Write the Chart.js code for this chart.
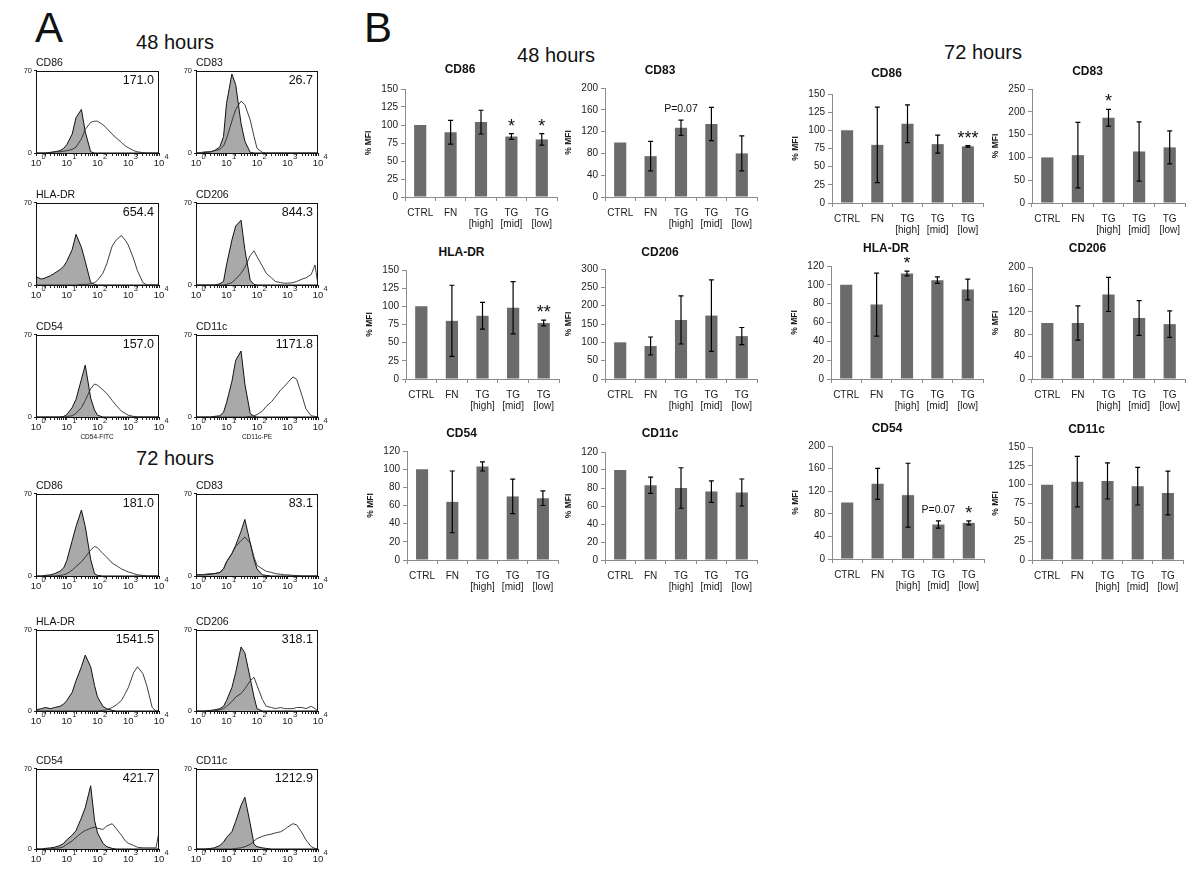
<!DOCTYPE html>
<html>
<head>
<meta charset="utf-8">
<script src="https://cdn.jsdelivr.net/npm/chart.js@4.4.0/dist/chart.umd.min.js"></script>
<style>
    body { margin: 0; width: 1200px; height: 875px; background: #fff; position: relative; overflow: hidden;
           font-family: "Liberation Sans", Arial, sans-serif; color: #111; }
    canvas { position: absolute; }
    .txt { position: absolute; white-space: nowrap; line-height: 1; z-index: 2; }
</style>
</head>
<body>
<script>
// --- PANEL A: FLOW HISTOGRAMS (fluorescence channel vs. counts) ---
const channels = [1, 1.5, 2, 3, 4, 6, 8, 10, 15, 20, 30, 40, 60, 80, 100, 150, 200, 300, 400, 600, 800, 1000, 1500, 2000, 3000, 4000, 6000, 8000, 10000];
const decadeExponents = { 1: '0', 10: '1', 100: '2', 1000: '3', 10000: '4' };

const h48_cd86_shaded  = [0,0,0,0.5,1,2,4,7,16,30,37,18,1,0,0,0,0,0,0,0,0,0,0,0,0,0,0,0,0];
const h48_cd86_open    = [0,0,0,0.5,1,1,1.5,2,3,5,12,20,26,27,27,24,21,16,13,9,6,4.5,2,1,0.3,0,0,0,0];
const h48_cd83_shaded  = [0,0,0.5,1,2,5,14,42,67,58,25,10,0.5,0,0,0,0,0,0,0,0,0,0,0,0,0,0,0,0];
const h48_cd83_open    = [0,0.5,1,1,2,3,6,12,27,37,44,41,28,14,4,0.5,0,0,0,0,0,0,0,0,0,0,0,0,0];
const h48_hla_shaded   = [7,5,6,8,10,13,16,20,30,43,32,20,2,0.5,0,0,0,0,0,0,0,0,0,0,0,0,0,0,0];
const h48_hla_open     = [0,0,0,0,0,0,0,0,0,0,0.5,0.5,1,2,4,10,18,33,38,42,38,34,22,12,2,0,0,0,0];
const h48_cd206_shaded = [0,0,0,0,0,1,3,17,38,50,55,30,4,0.5,0,0,0,0,0,0,0,0,0,0,0,0,0,0,0];
const h48_cd206_open   = [0,0,0,0,0,0,0,0.5,2,5,10,15,25,29,24,16,10,6,3,2,1.5,1.5,2,3,5,6,9,17,0];
const h48_cd54_shaded  = [0,0,0,0,0,0,0.5,2,8,15,32,44,16,6,1.5,0,0,0,0,0,0,0,0,0,0,0,0,0,0];
const h48_cd54_open    = [0,0,0,0,0,0,0,0.5,1,3,8,14,24,28,27,23,20,14,10,5,3,1.5,0.5,0,0,0,0,0,0];
const h48_cd11c_shaded = [0,0,0,0,0.5,1,4,12,30,48,56,28,3,0.5,0,0,0,0,0,0,0,0,0,0,0,0,0,0,0];
const h48_cd11c_open   = [0,0,0,0,0,0,0,0,0,0,0,0,0.5,1,2,5,9,13,17,23,26,29,34,32,18,7,1,0.5,0];

const h72_cd86_shaded  = [0,0,0.5,1,2,4,7,13,30,42,56,42,14,2,0.5,0,0,0,0,0,0,0,0,0,0,0,0,0,0];
const h72_cd86_open    = [0,0,0,0,0,0.5,1,2,5,8,12,16,22,25,24,19,16,11,9,6,4.5,3.5,2,1,0.5,0,0,0,0];
const h72_cd83_shaded  = [1,1,1,1.5,2,3,6,12,19,26,38,48,28,14,6,1,0.5,0,0,0,0,0,0,0,0,0,0,0,0];
const h72_cd83_open    = [1,1,1.5,2,2,3,6,12,19,25,30,33,28,16,9,6,4,3,2,1.5,1,1,0.5,0.5,0,0,0,0,0];
const h72_hla_shaded   = [1,2,3,2,3,4,6,9,16,26,38,48,38,22,12,4,2,0.5,0,0,0,0,0,0,0,0,0,0,0];
const h72_hla_open     = [0,0,0,0,0,0,0,0,0,0,0,0,0,0,0,0.5,1,3,5,9,15,20,33,38,32,22,3,0,0];
const h72_cd206_shaded = [0,0,0,0.5,1,2,4,9,20,33,55,50,28,12,2,0,0,0,0,0,0,0,0,0,0,0,0,0,0];
const h72_cd206_open   = [0,0,0,0,0,1,2,4,8,12,15,19,26,29,22,10,4,3,2,3,2,2,2,3,3,2,4,2,0];
const h72_cd54_shaded  = [0,0,0.5,1,1.5,3,5,8,12,16,27,36,55,25,14,5,2,0.5,0,0,0,0,0,0,0,0,0,0,0];
const h72_cd54_open    = [0,0,0,0,0.5,1,2,4,7,10,14,16,18,19,18,17,20,22,18,12,7,5,3,1.5,1,1,1,1,15];
const h72_cd11c_shaded = [0,0,0,0.5,1,3,6,10,15,24,38,45,22,4,2,1,0.5,0,0,0,0,0,0,0,0,0,0,0,0];
const h72_cd11c_open   = [0,0,0,0,0,0,0,0,0,0.5,1,2,4,7,9,11,12,13,14,15,17,19,22,21,14,8,2,0.5,0];

// --- PANEL B: % MFI BAR CHARTS ---
const groups = ['CTRL', 'FN', ['TG', '[high]'], ['TG', '[mid]'], ['TG', '[low]']];

const b48_cd86 = [100, 90, 104, 84, 80];    const b48_cd86_err = [0, 16.5, 16.5, 4, 8];
const b48_cd83 = [100, 75, 127, 134, 80];   const b48_cd83_err = [0, 27, 14, 30.5, 32];
const b48_hla = [100, 80, 87, 98, 77];      const b48_hla_err = [0, 49, 18.5, 36, 4];
const b48_cd206 = [100, 90, 161, 173, 117]; const b48_cd206_err = [0, 24.5, 65.5, 97.5, 23.5];
const b48_cd54 = [100, 64, 103, 70, 68];    const b48_cd54_err = [0, 34, 5, 19, 8];
const b48_cd11c = [100, 83, 80, 76, 75];    const b48_cd11c_err = [0, 9, 22.5, 12, 15];

const b72_cd86 = [100, 80, 109, 81, 78];    const b72_cd86_err = [0, 52, 26, 12.5, 1];
const b72_cd83 = [100, 105, 187, 113, 122]; const b72_cd83_err = [0, 72, 18.5, 65, 36];
const b72_hla = [100, 79, 112, 105, 95];    const b72_hla_err = [0, 33.5, 2.5, 3.5, 11];
const b72_cd206 = [100, 100, 151, 109, 98]; const b72_cd206_err = [0, 30.5, 30.5, 31, 23.5];
const b72_cd54 = [100, 133, 113, 61, 64];   const b72_cd54_err = [0, 27.5, 56.5, 6.5, 3.5];
const b72_cd11c = [100, 104, 105, 98, 89];  const b72_cd11c_err = [0, 33.5, 24, 25, 29];

const noMarks = ['', '', '', '', ''];
const b48_cd86_marks = ['', '', '', '*', '*'];
const b48_cd83_marks = ['', '', 'P=0.07', '', ''];
const b48_hla_marks = ['', '', '', '', '**'];
const b72_cd86_marks = ['', '', '', '', '***'];
const b72_cd83_marks = ['', '', '*', '', ''];
const b72_hla_marks = ['', '', '*', '', ''];
const b72_cd54_marks = ['', '', '', 'P=0.07', '*'];

Chart.defaults.font.family = '"Liberation Sans", Arial, sans-serif';
Chart.defaults.color = '#1a1a1a';

// --- HELPERS ---
function addText(str, x, y, size, opts = {}) {
    const d = document.createElement('div');
    d.className = 'txt';
    d.textContent = str;
    d.style.left = x + 'px';
    d.style.top = y + 'px';
    d.style.fontSize = size + 'px';
    if (opts.bold) d.style.fontWeight = 'bold';
    const shift = opts.align === 'left' ? '0' : opts.align === 'right' ? '-100%' : '-50%';
    d.style.transform = `translate(${shift}, -50%)`;
    document.body.appendChild(d);
}

function addCanvas(left, top, w, h) {
    const c = document.createElement('canvas');
    c.width = w; c.height = h;
    c.style.left = left + 'px';
    c.style.top = top + 'px';
    c.style.width = w + 'px';
    c.style.height = h + 'px';
    document.body.appendChild(c);
    return c;
}

// closed frame around the histogram plot area, plus the raised decade exponents
const boxFrame = {
    id: 'boxFrame',
    afterDraw(chart) {
        const { ctx, chartArea: a } = chart;
        const xs = chart.scales.x;
        ctx.save();
        ctx.strokeStyle = '#111';
        ctx.lineWidth = 1;
        ctx.strokeRect(Math.round(a.left) + 0.5, Math.round(a.top) + 0.5,
                       Math.round(a.right - a.left) - 1, Math.round(a.bottom - a.top) - 1);
        ctx.fillStyle = '#1a1a1a';
        ctx.font = '7.5px "Liberation Sans", Arial, sans-serif';
        ctx.textAlign = 'left';
        ctx.textBaseline = 'middle';
        Object.keys(decadeExponents).forEach(v => {
            ctx.fillText(decadeExponents[v], xs.getPixelForValue(Number(v)) + 5.5, a.bottom + 4);
        });
        ctx.restore();
    }
};

// error bars + significance marks on top of bars
const errorBars = {
    id: 'errorBars',
    afterDatasetsDraw(chart) {
        const ds = chart.data.datasets[0];
        const meta = chart.getDatasetMeta(0);
        const yScale = chart.scales.y;
        const ctx = chart.ctx;
        ctx.save();
        ctx.strokeStyle = '#000';
        ctx.fillStyle = '#111';
        ctx.lineWidth = 1.2;
        meta.data.forEach((bar, i) => {
            const m = ds.data[i], e = ds.errors[i];
            const hi = yScale.getPixelForValue(m + e);
            if (e > 0) {
                const lo = yScale.getPixelForValue(m - e);
                ctx.beginPath();
                ctx.moveTo(bar.x, lo); ctx.lineTo(bar.x, hi);
                ctx.moveTo(bar.x - 2.5, lo); ctx.lineTo(bar.x + 2.5, lo);
                ctx.moveTo(bar.x - 2.5, hi); ctx.lineTo(bar.x + 2.5, hi);
                ctx.stroke();
            }
            const mark = ds.marks[i];
            if (mark) {
                ctx.textAlign = 'center';
                ctx.textBaseline = 'alphabetic';
                if (mark.startsWith('P')) {
                    ctx.font = '10.5px "Liberation Sans", Arial, sans-serif';
                    ctx.fillText(mark, bar.x, hi - 8);
                } else {
                    ctx.font = '18px "Liberation Sans", Arial, sans-serif';
                    ctx.fillText(mark, bar.x, hi - 2);
                }
            }
        });
        ctx.restore();
    }
};

function histogram(left, top, w, h, name, mfi, shaded, open) {
    if (shaded.length !== channels.length || open.length !== channels.length) throw new Error('bad length ' + name);
    const padL = 14, padT = 5, padR = 12, axisH = 18;
    const canvas = addCanvas(left - padL, top - padT, w + padL + padR, h + padT + axisH);
    const toPoints = arr => channels.map((c, i) => ({ x: c, y: arr[i] }));

    new Chart(canvas, {
        type: 'line',
        data: {
            datasets: [
                { data: toPoints(open), borderColor: '#2a2a2a', borderWidth: 0.9, fill: false, pointRadius: 0, tension: 0 },
                { data: toPoints(shaded), borderColor: '#111', borderWidth: 1, backgroundColor: '#a9a9a9', fill: 'origin', pointRadius: 0, tension: 0 }
            ]
        },
        options: {
            responsive: false,
            animation: false,
            devicePixelRatio: 1,
            layout: { padding: { top: padT, right: padR, left: 0, bottom: 0 } },
            plugins: { legend: { display: false }, tooltip: { enabled: false } },
            scales: {
                x: {
                    type: 'logarithmic', min: 1, max: 10000,
                    afterFit: s => { s.height = axisH; },
                    afterBuildTicks: s => {
                        s.ticks = s.ticks.filter(t => {
                            const lead = t.value / Math.pow(10, Math.floor(Math.log10(t.value) + 1e-9));
                            return Math.abs(lead - 1.5) > 0.01;
                        });
                    },
                    grid: { drawOnChartArea: false, tickLength: 3, color: '#222' },
                    border: { color: '#111' },
                    ticks: { autoSkip: false, maxRotation: 0, padding: 2, font: { size: 9.5 },
                             callback: v => decadeExponents[v] !== undefined ? '10' : '' }
                },
                y: {
                    min: 0, max: 70,
                    afterFit: s => { s.width = padL; },
                    grid: { drawOnChartArea: false, tickLength: 2, color: '#222' },
                    border: { color: '#111' },
                    ticks: { stepSize: 70, padding: 2, font: { size: 7.5 } }
                }
            }
        },
        plugins: [boxFrame]
    });

    addText(name, left, top - 7, 10.5, { align: 'left' });
    addText(mfi, left + w - 5, top + 11, 12.5, { align: 'right' });
}

function barChart(axisX, topY, rightX, zeroY, title, titleY, yMax, yStep, values, errors, marks) {
    const padL = 42, padT = 8, padR = 6, axisH = 34;
    const left = axisX - padL;
    const canvas = addCanvas(left, topY - padT, padL + (rightX - axisX) + padR, padT + (zeroY - topY) + axisH);

    new Chart(canvas, {
        type: 'bar',
        data: {
            labels: groups,
            datasets: [{
                data: values,
                errors: errors,
                marks: marks,
                backgroundColor: '#6b6b6b',
                barPercentage: 0.4,
                categoryPercentage: 1
            }]
        },
        options: {
            responsive: false,
            animation: false,
            devicePixelRatio: 1,
            layout: { padding: { top: padT, right: padR, left: 0, bottom: 0 } },
            plugins: { legend: { display: false }, tooltip: { enabled: false } },
            scales: {
                x: {
                    afterFit: s => { s.height = axisH; },
                    grid: { drawOnChartArea: false, tickLength: 4, color: '#8c8c8c' },
                    border: { color: '#8c8c8c' },
                    ticks: { autoSkip: false, maxRotation: 0, padding: 7, font: { size: 10, lineHeight: 1.1 } }
                },
                y: {
                    min: 0, max: yMax,
                    afterFit: s => { s.width = padL; },
                    grid: { drawOnChartArea: false, tickLength: 4, color: '#8c8c8c' },
                    border: { color: '#8c8c8c' },
                    ticks: { stepSize: yStep, padding: 3, font: { size: 10 } },
                    title: { display: true, text: '% MFI', padding: 1, font: { size: 8.5, weight: 'bold' } }
                }
            }
        },
        plugins: [errorBars]
    });

    addText(title, (left + rightX) / 2, titleY, 12, { bold: true });
}

// --- HEADINGS ---
addText('A', 49, 28, 42);
addText('B', 378, 28, 42);
addText('48 hours', 175, 42, 20);
addText('72 hours', 175, 458, 20);
addText('48 hours', 556, 55, 20);
addText('72 hours', 983, 52, 20);

// --- PANEL A LAYOUT ---
histogram(36, 69, 123, 84, 'CD86', '171.0', h48_cd86_shaded, h48_cd86_open);
histogram(196, 69, 122, 84, 'CD83', '26.7', h48_cd83_shaded, h48_cd83_open);
histogram(36, 201, 123, 84, 'HLA-DR', '654.4', h48_hla_shaded, h48_hla_open);
histogram(196, 201, 122, 84, 'CD206', '844.3', h48_cd206_shaded, h48_cd206_open);
histogram(36, 333, 123, 84, 'CD54', '157.0', h48_cd54_shaded, h48_cd54_open);
histogram(196, 333, 122, 84, 'CD11c', '1171.8', h48_cd11c_shaded, h48_cd11c_open);
addText('CD54-FITC', 97, 437, 6.5);
addText('CD11c-PE', 257, 437, 6.5);

histogram(36, 492, 123, 84, 'CD86', '181.0', h72_cd86_shaded, h72_cd86_open);
histogram(196, 492, 122, 84, 'CD83', '83.1', h72_cd83_shaded, h72_cd83_open);
histogram(36, 628, 123, 83, 'HLA-DR', '1541.5', h72_hla_shaded, h72_hla_open);
histogram(196, 628, 122, 83, 'CD206', '318.1', h72_cd206_shaded, h72_cd206_open);
histogram(36, 767, 123, 82, 'CD54', '421.7', h72_cd54_shaded, h72_cd54_open);
histogram(196, 767, 122, 82, 'CD11c', '1212.9', h72_cd11c_shaded, h72_cd11c_open);

// --- PANEL B LAYOUT ---
barChart(405, 88, 557, 197, 'CD86', 69, 150, 25, b48_cd86, b48_cd86_err, b48_cd86_marks);
barChart(605, 87, 757, 197, 'CD83', 70, 200, 40, b48_cd83, b48_cd83_err, b48_cd83_marks);
barChart(406, 269, 559, 379, 'HLA-DR', 252, 150, 25, b48_hla, b48_hla_err, b48_hla_marks);
barChart(605, 268, 757, 379, 'CD206', 252, 300, 50, b48_cd206, b48_cd206_err, noMarks);
barChart(407, 450, 558, 560, 'CD54', 433, 120, 20, b48_cd54, b48_cd54_err, noMarks);
barChart(605, 451, 757, 560, 'CD11c', 433, 120, 20, b48_cd11c, b48_cd11c_err, noMarks);

barChart(832, 93, 983, 203, 'CD86', 73, 150, 25, b72_cd86, b72_cd86_err, b72_cd86_marks);
barChart(1032, 88, 1185, 203, 'CD83', 71, 250, 50, b72_cd83, b72_cd83_err, b72_cd83_marks);
barChart(831, 265, 983, 379, 'HLA-DR', 248, 120, 20, b72_hla, b72_hla_err, b72_hla_marks);
barChart(1032, 266, 1185, 379, 'CD206', 248, 200, 40, b72_cd206, b72_cd206_err, noMarks);
barChart(832, 445, 984, 559, 'CD54', 428, 200, 40, b72_cd54, b72_cd54_err, b72_cd54_marks);
barChart(1032, 446, 1183, 560, 'CD11c', 429, 150, 25, b72_cd11c, b72_cd11c_err, noMarks);
</script>
</body>
</html>
